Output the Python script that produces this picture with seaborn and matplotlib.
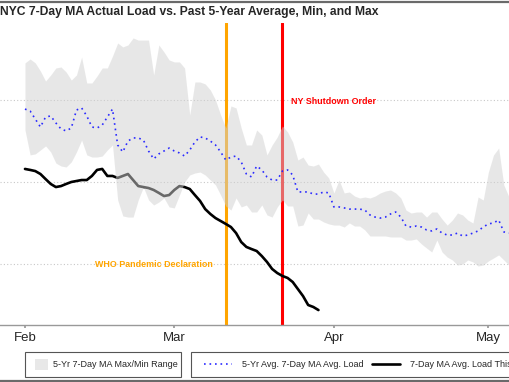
import pandas as pd
import seaborn as sns
import matplotlib.pyplot as plt
from matplotlib.lines import Line2D
from matplotlib.patches import Patch, Rectangle

# Daily values starting Feb 1 (MW, 7-day moving averages)
start_date = "2020-02-01"
band_max = [5730, 5754, 5730, 5680, 5619, 5656, 5699, 5705, 5674, 5625,
            5656, 5766, 5607, 5607, 5650, 5699, 5699, 5772, 5852, 5828,
            5840, 5883, 5870, 5870, 5870, 5656, 5840, 5797, 5748, 5736,
            5736, 5699, 5411, 5613, 5613, 5601, 5564, 5503, 5411, 5331,
            5466, 5454, 5331, 5227, 5227, 5319, 5288, 5166, 5227, 5276,
            5343, 5307, 5245, 5135, 5153, 5104, 5098, 5110, 5061, 5025,
            4933, 5012, 4933, 4939, 4914, 4902, 4908, 4902, 4914, 4933,
            4945, 4951, 4933, 4902, 4828, 4810, 4816, 4816, 4785, 4816,
            4816, 4773, 4736, 4767, 4810, 4798, 4767, 4749, 4908, 4890,
            5061, 5166, 5208, 4982, 4908]
band_min = [5319, 5166, 5172, 5196, 5221, 5184, 5116, 5098, 5092, 5123,
            5184, 5257, 5166, 5153, 5153, 5159, 5196, 5227, 4890, 4792,
            4785, 4785, 4890, 4969, 4890, 4859, 4877, 4902, 4847, 4841,
            4920, 5000, 5043, 5055, 5061, 5043, 5012, 4982, 4920, 4853,
            4828, 4902, 4847, 4859, 4816, 4816, 4859, 4798, 4785, 4847,
            4890, 4853, 4853, 4730, 4736, 4810, 4773, 4773, 4755, 4743,
            4736, 4736, 4724, 4749, 4730, 4730, 4706, 4669, 4669, 4669,
            4669, 4663, 4663, 4663, 4644, 4644, 4651, 4620, 4595, 4571,
            4644, 4571, 4540, 4522, 4491, 4497, 4522, 4510, 4485, 4491,
            4516, 4534, 4553, 4522, 4491]
avg_5yr = [5447, 5435, 5386, 5337, 5398, 5405, 5362, 5325, 5313, 5331,
           5441, 5454, 5405, 5337, 5331, 5349, 5398, 5447, 5227, 5184,
           5251, 5270, 5270, 5257, 5190, 5141, 5172, 5190, 5208, 5190,
           5178, 5159, 5196, 5245, 5276, 5270, 5251, 5227, 5184, 5135,
           5153, 5159, 5123, 5049, 5031, 5098, 5074, 5031, 5012, 5012,
           5067, 5074, 5043, 4939, 4939, 4939, 4926, 4926, 4939, 4933,
           4847, 4847, 4841, 4834, 4834, 4834, 4828, 4798, 4785, 4779,
           4785, 4804, 4816, 4785, 4730, 4724, 4730, 4724, 4706, 4700,
           4712, 4687, 4675, 4675, 4687, 4669, 4675, 4687, 4700, 4724,
           4743, 4749, 4767, 4694, 4687]
load_2020 = [5080, 5074, 5067, 5049, 5018, 4988, 4969, 4975, 4988, 5000,
             5006, 5012, 5012, 5037, 5074, 5080, 5037, 5037, 5025, 5037,
             5049, 5012, 4975, 4969, 4963, 4951, 4933, 4914, 4920, 4951,
             4975, 4969, 4957, 4920, 4884, 4834, 4804, 4779, 4761, 4743,
             4724, 4687, 4632, 4602, 4589, 4577, 4546, 4510, 4467, 4442,
             4424, 4412, 4387, 4344, 4301, 4246, 4234, 4215]
month_ticks = ["2020-02-01", "2020-03-01", "2020-04-01", "2020-05-01"]
month_labels = ["Feb", "Mar", "Apr", "May"]
grid_values = [4500, 5000, 5500]
who_date = "2020-03-11"
shutdown_date = "2020-03-22"

days = pd.date_range(start_date, periods=len(band_max), freq="D")
hist = pd.DataFrame({"date": days, "max": band_max, "min": band_min, "avg": avg_5yr})
actual = pd.DataFrame({"date": days[:len(load_2020)], "load": load_2020})

sns.set_theme(style="white")
plt.rcParams["font.family"] = ["Liberation Sans", "DejaVu Sans"]

W, H = 510, 382
fig = plt.figure(figsize=(W / 100, H / 100), dpi=100)
ax = fig.add_axes([0, 0.149, 1, 0.791])

# vertical event lines (under the band)
ax.axvline(pd.Timestamp(who_date), color="#FFA500", lw=2.2, zorder=1)
ax.axvline(pd.Timestamp(shutdown_date), color="#FF0000", lw=2.2, zorder=1)

sns.lineplot(data=actual, x="date", y="load", color="black", lw=1.9, ax=ax, zorder=2)
ax.fill_between(hist["date"], hist["min"], hist["max"], color="0.82", alpha=0.5, lw=0, zorder=3)
sns.lineplot(data=hist, x="date", y="avg", color="#2a2aff", lw=1.2,
             linestyle=(0, (1, 2.3)), ax=ax, zorder=4)

ax.annotate("WHO Pandemic Declaration", xy=(pd.Timestamp(who_date), 4495),
            xytext=(-9, 0), textcoords="offset points", ha="right", va="center",
            color="#FFA500", fontsize=6.4, fontweight="bold")
ax.annotate("NY Shutdown Order", xy=(pd.Timestamp(shutdown_date), 5495),
            xytext=(6.5, 0), textcoords="offset points", ha="left", va="center",
            color="#FF0000", fontsize=6.4, fontweight="bold")

ax.set_xlim(pd.Timestamp(start_date) - pd.Timedelta(days=4.85),
            pd.Timestamp(start_date) + pd.Timedelta(days=94.2))
ax.set_ylim(4123, 5975)
ax.set_yticks(grid_values)
ax.yaxis.grid(True, linestyle=(0, (1, 2)), color="#c8c8c8", lw=0.8)
ax.tick_params(axis="y", left=False, labelleft=False)
ax.set_xticks(pd.to_datetime(month_ticks))
ax.set_xticklabels(month_labels, fontsize=9.5)
ax.tick_params(axis="x", bottom=True, length=2.5, color="#999999", pad=2.5)
ax.set_xlabel("")
ax.set_ylabel("")
for side in ["left", "right", "top"]:
    ax.spines[side].set_visible(False)
ax.spines["bottom"].set_color("#999999")
ax.spines["bottom"].set_linewidth(1)

fig.text(0.0, 1 - 12 / H, "NYC 7-Day MA Actual Load vs. Past 5-Year Average, Min, and Max",
         fontsize=8.7, fontweight="bold", ha="left", va="center")

# legend boxes drawn by hand, entries placed inside them
for x0, x1 in [(25, 181), (191, 520)]:
    fig.add_artist(Rectangle((x0 / W, 1 - 377 / H), (x1 - x0) / W, 25 / H,
                             transform=fig.transFigure, fill=False,
                             edgecolor="#555555", lw=0.8))

fig.legend(handles=[Patch(facecolor="#e8e8e8", edgecolor="none")],
           labels=["5-Yr 7-Day MA Max/Min Range"],
           loc="center left", bbox_to_anchor=(35 / W, 1 - 364.5 / H),
           frameon=False, fontsize=6.5, handlelength=1.45, handleheight=1.55,
           handletextpad=0.55, borderpad=0, borderaxespad=0)

fig.legend(handles=[Line2D([], [], color="#2a2aff", lw=1.2, ls=(0, (1, 2.3))),
                    Line2D([], [], color="black", lw=1.9)],
           labels=["5-Yr Avg. 7-Day MA Avg. Load", "7-Day MA Avg. Load This Year"],
           ncol=2, loc="center left", bbox_to_anchor=(204 / W, 1 - 364.5 / H),
           frameon=False, fontsize=6.5, handlelength=3.1, handletextpad=1.15,
           columnspacing=0.85, borderpad=0, borderaxespad=0)

for yy in [1 - 2 / H, 1 - 380.5 / H]:
    fig.add_artist(Line2D([0, 1], [yy, yy], color="#6a6a6a", lw=1.6, transform=fig.transFigure))

fig.savefig("out.png", dpi=100)
